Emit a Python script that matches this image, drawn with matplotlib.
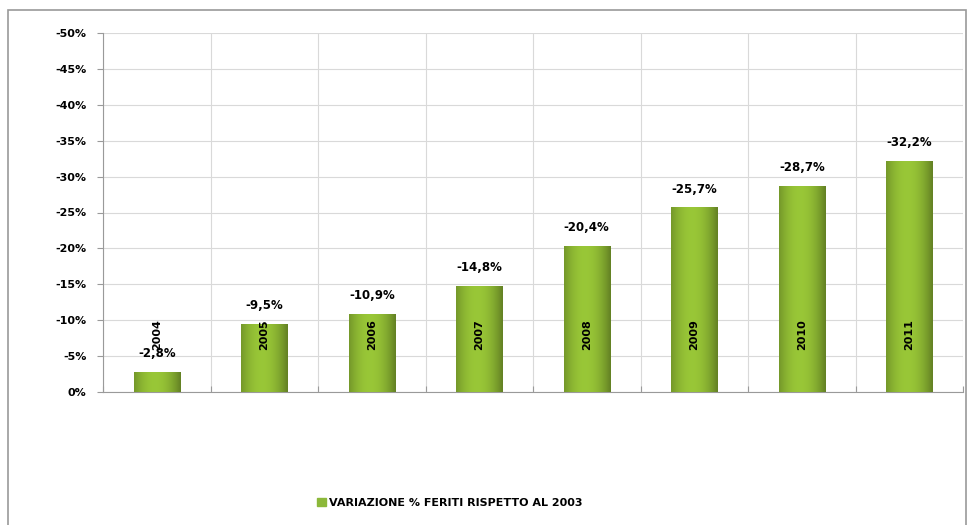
import numpy as np
import matplotlib.pyplot as plt
from matplotlib.patches import Rectangle

# percentage change of injured vs 2003
anni = ['2004', '2005', '2006', '2007', '2008', '2009', '2010', '2011']
variazione = [-2.8, -9.5, -10.9, -14.8, -20.4, -25.7, -28.7, -32.2]
etichette = ['-2,8%', '-9,5%', '-10,9%', '-14,8%', '-20,4%', '-25,7%', '-28,7%', '-32,2%']
yticks = [0, -5, -10, -15, -20, -25, -30, -35, -40, -45, -50]

green = '#8cb83a'

fig = plt.figure(figsize=(9.73, 5.25), dpi=100)
fig.patches.append(Rectangle((8 / 973, -0.01), 958 / 973, 1 - 10 / 525 + 0.01,
                             transform=fig.transFigure, fill=False,
                             edgecolor='#9a9a9a', linewidth=1.2))

ax = fig.add_axes([103 / 973, 1 - 392 / 525, 860 / 973, 359 / 525])
x = np.arange(len(anni))

# horizontal shading so the bars look a little rounded
t = np.linspace(0, 1, 64)
s = 1 - (np.abs(t - 0.45) * 2) ** 2
base = np.array([0.50, 0.65, 0.18])
img = np.clip(base[None, None, :] * (0.85 + 0.35 * s[None, :, None]), 0, 1)

bars = ax.bar(x, variazione, width=0.43, color=green, edgecolor='#7a9f30',
              linewidth=0.6, zorder=3)
for b in bars:
    x0, w, h = b.get_x(), b.get_width(), b.get_height()
    im = ax.imshow(img, extent=(x0, x0 + w, 0, h), aspect='auto', zorder=3.5,
                   interpolation='bicubic')
    im.set_clip_path(b)

ax.set_xlim(-0.5, len(anni) - 0.5)
ax.set_ylim(0, -50)
ax.set_yticks(yticks)
ax.set_yticklabels([f'{v}%' for v in yticks], fontsize=8, fontweight='bold')
ax.set_xticks(np.arange(len(anni) + 1) - 0.5)
ax.set_xticklabels([])
ax.tick_params(axis='x', length=4, color='#9a9a9a', direction='in')
ax.tick_params(axis='y', length=4, color='#9a9a9a', pad=8)

ax.grid(True, color='#d9d9d9', linewidth=0.8, zorder=0)
for side in ['top', 'right']:
    ax.spines[side].set_visible(False)
for side in ['left', 'bottom']:
    ax.spines[side].set_color('#9a9a9a')

# value labels above the bars
for xi, v, lab in zip(x, variazione, etichette):
    ax.text(xi, v - 1.6, lab, ha='center', va='bottom', fontsize=8.5,
            fontweight='bold', zorder=5)

# year labels, rotated, at a fixed height
for xi, a in zip(x, anni):
    ax.text(xi, -8.0, a, ha='center', va='center', rotation=90, fontsize=8,
            fontweight='bold', zorder=5)

# legend under the chart
fig.legend([Rectangle((0, 0), 1, 1, color=green)],
           ['VARIAZIONE % FERITI RISPETTO AL 2003'],
           loc='center', bbox_to_anchor=(450 / 973, 1 - 503 / 525),
           frameon=False, prop={'size': 8, 'weight': 'bold'},
           handlelength=0.8, handleheight=0.8, handletextpad=0.3)

fig.savefig('out.png', dpi=100)
